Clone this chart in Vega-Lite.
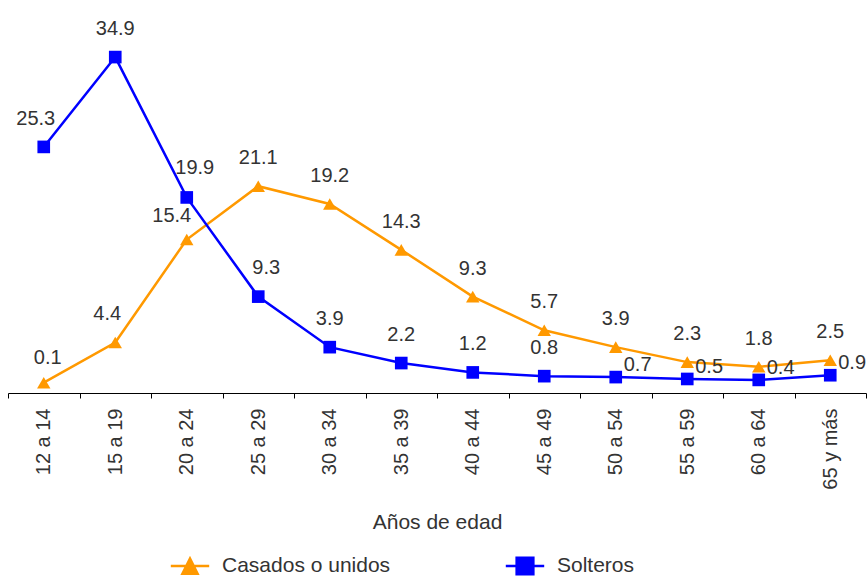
{
  "$schema": "https://vega.github.io/schema/vega-lite/v6.json",
  "width": 858,
  "height": 393,
  "autosize": {"type": "none"},
  "padding": {"left": 8, "top": 0, "right": 2, "bottom": 183},
  "background": "white",
  "config": {
    "view": {"stroke": null},
    "font": "Liberation Sans",
    "text": {"font": "Liberation Sans"}
  },
  "data": {
    "values": [
      {"edad": "12 a 14", "serie": "Casados o unidos", "valor": 0.1},
      {"edad": "15 a 19", "serie": "Casados o unidos", "valor": 4.4},
      {"edad": "20 a 24", "serie": "Casados o unidos", "valor": 15.4},
      {"edad": "25 a 29", "serie": "Casados o unidos", "valor": 21.1},
      {"edad": "30 a 34", "serie": "Casados o unidos", "valor": 19.2},
      {"edad": "35 a 39", "serie": "Casados o unidos", "valor": 14.3},
      {"edad": "40 a 44", "serie": "Casados o unidos", "valor": 9.3},
      {"edad": "45 a 49", "serie": "Casados o unidos", "valor": 5.7},
      {"edad": "50 a 54", "serie": "Casados o unidos", "valor": 3.9},
      {"edad": "55 a 59", "serie": "Casados o unidos", "valor": 2.3},
      {"edad": "60 a 64", "serie": "Casados o unidos", "valor": 1.8},
      {"edad": "65 y más", "serie": "Casados o unidos", "valor": 2.5},
      {"edad": "12 a 14", "serie": "Solteros", "valor": 25.3},
      {"edad": "15 a 19", "serie": "Solteros", "valor": 34.9},
      {"edad": "20 a 24", "serie": "Solteros", "valor": 19.9},
      {"edad": "25 a 29", "serie": "Solteros", "valor": 9.3},
      {"edad": "30 a 34", "serie": "Solteros", "valor": 3.9},
      {"edad": "35 a 39", "serie": "Solteros", "valor": 2.2},
      {"edad": "40 a 44", "serie": "Solteros", "valor": 1.2},
      {"edad": "45 a 49", "serie": "Solteros", "valor": 0.8},
      {"edad": "50 a 54", "serie": "Solteros", "valor": 0.7},
      {"edad": "55 a 59", "serie": "Solteros", "valor": 0.5},
      {"edad": "60 a 64", "serie": "Solteros", "valor": 0.4},
      {"edad": "65 y más", "serie": "Solteros", "valor": 0.9}
    ]
  },
  "encoding": {
    "x": {
      "field": "edad",
      "type": "ordinal",
      "sort": null,
      "scale": {"paddingInner": 0, "paddingOuter": 0},
      "axis": {
        "title": "Años de edad",
        "titleFont": "Liberation Sans",
        "titleFontSize": 21,
        "titleFontWeight": "normal",
        "titleColor": "#333333",
        "titlePadding": 22,
        "labelAngle": -90,
        "labelAlign": "right",
        "labelBaseline": "middle",
        "labelFont": "Liberation Sans",
        "labelFontSize": 20,
        "labelColor": "#333333",
        "labelPadding": 10,
        "tickBand": "extent",
        "tickSize": 5,
        "tickColor": "#000000",
        "domainColor": "#000000",
        "domainWidth": 1.2,
        "grid": false
      }
    },
    "y": {
      "field": "valor",
      "type": "quantitative",
      "scale": {"domain": [-1, 41], "nice": false, "zero": false},
      "axis": null
    },
    "color": {
      "field": "serie",
      "type": "nominal",
      "scale": {"domain": ["Casados o unidos", "Solteros"], "range": ["#FF9900", "#0000FF"]},
      "legend": {
        "orient": "none",
        "legendX": 170,
        "legendY": 554,
        "direction": "horizontal",
        "title": null,
        "padding": 0,
        "symbolSize": 576,
        "labelFont": "Liberation Sans",
        "labelFontSize": 21,
        "labelColor": "#333333",
        "labelOffset": 20,
        "labelLimit": 400,
        "columnPadding": 114,
        "encode": {
          "symbols": {
            "update": {
              "shape": {"signal": "datum.value === 'Solteros' ? 'M-1.6,-0.1H1.6V0.1H-1.6Z M-0.8,-0.8H0.8V0.8H-0.8Z' : 'M-1.6,-0.1H1.6V0.1H-1.6Z M0,-0.85L0.8,0.75H-0.8Z'"},
              "fill": {"scale": "color", "field": "value"},
              "fillOpacity": {"value": 1},
              "opacity": {"value": 1},
              "strokeWidth": {"value": 0}
            }
          }
        }
      }
    }
  },
  "layer": [
    {
      "mark": {"type": "line", "strokeWidth": 2.5}
    },
    {
      "transform": [{"filter": "datum.serie === 'Casados o unidos'"}],
      "mark": {"type": "point", "filled": true, "opacity": 1, "size": 180, "shape": "triangle-up"}
    },
    {
      "transform": [{"filter": "datum.serie === 'Solteros'"}],
      "mark": {"type": "point", "filled": true, "opacity": 1, "size": 160, "shape": "square"}
    },
    {
      "transform": [
        {"filter": "!((datum.serie === 'Solteros' && indexof(['12 a 14','20 a 24','25 a 29','50 a 54','55 a 59','60 a 64','65 y más'], datum.edad) >= 0) || (datum.serie === 'Casados o unidos' && indexof(['12 a 14','15 a 19','20 a 24'], datum.edad) >= 0))"}
      ],
      "mark": {"type": "text", "dy": -28, "fontSize": 20, "baseline": "middle", "align": "center"},
      "encoding": {"text": {"field": "valor", "type": "quantitative", "format": ".1f"}, "color": {"value": "#333333"}}
    },
    {
      "transform": [
        {"filter": "(datum.serie === 'Solteros' && datum.edad === '12 a 14') || (datum.serie === 'Casados o unidos' && datum.edad === '15 a 19')"}
      ],
      "mark": {"type": "text", "dy": -28, "dx": -8, "fontSize": 20, "baseline": "middle", "align": "center"},
      "encoding": {"text": {"field": "valor", "type": "quantitative", "format": ".1f"}, "color": {"value": "#333333"}}
    },
    {
      "transform": [
        {"filter": "datum.serie === 'Casados o unidos' && datum.edad === '20 a 24'"}
      ],
      "mark": {"type": "text", "dy": -24, "dx": -15, "fontSize": 20, "baseline": "middle", "align": "center"},
      "encoding": {"text": {"field": "valor", "type": "quantitative", "format": ".1f"}, "color": {"value": "#333333"}}
    },
    {
      "transform": [
        {"filter": "datum.serie === 'Casados o unidos' && datum.edad === '12 a 14'"}
      ],
      "mark": {"type": "text", "dy": -25, "dx": 4, "fontSize": 20, "baseline": "middle", "align": "center"},
      "encoding": {"text": {"field": "valor", "type": "quantitative", "format": ".1f"}, "color": {"value": "#333333"}}
    },
    {
      "transform": [
        {"filter": "datum.serie === 'Solteros' && indexof(['20 a 24','25 a 29'], datum.edad) >= 0"}
      ],
      "mark": {"type": "text", "dy": -29, "dx": 8, "fontSize": 20, "baseline": "middle", "align": "center"},
      "encoding": {"text": {"field": "valor", "type": "quantitative", "format": ".1f"}, "color": {"value": "#333333"}}
    },
    {
      "transform": [
        {"filter": "datum.serie === 'Solteros' && indexof(['50 a 54','55 a 59','60 a 64','65 y más'], datum.edad) >= 0"}
      ],
      "mark": {"type": "text", "dy": -12, "dx": 8, "fontSize": 20, "baseline": "middle", "align": "left"},
      "encoding": {"text": {"field": "valor", "type": "quantitative", "format": ".1f"}, "color": {"value": "#333333"}}
    }
  ]
}
